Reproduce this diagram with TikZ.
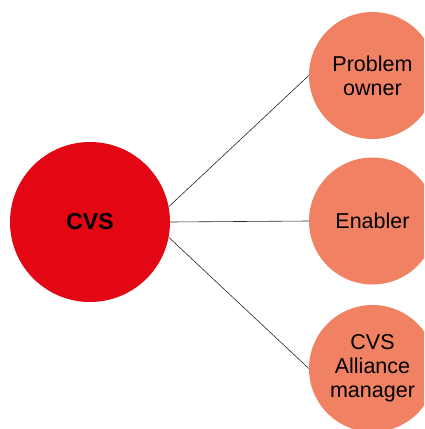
\documentclass[tikz,border=0pt]{standalone}
\usepackage{fontspec}
\setmainfont{Liberation Sans}
\definecolor{cvsred}{HTML}{E30613}
\definecolor{salmon}{HTML}{F08263}
\begin{document}
\begin{tikzpicture}[x=1pt,y=-1pt,
  bigc/.style={circle,fill=cvsred,minimum size=160pt,inner sep=0pt,font=\fontsize{23}{26}\selectfont\bfseries},
  smallc/.style={circle,fill=salmon,minimum size=127pt,inner sep=0pt,align=center,font=\fontsize{21.5}{24}\selectfont},
  link/.style={draw=black!85,line width=0.6pt}]
\useasboundingbox (0,0) rectangle (424,429);
\clip (0,0) rectangle (424,429);
\node[bigc] (cvs) at (90,222) {CVS};
\node[smallc] (po) at (372.5,75.5) {Problem\\owner};
\node[smallc] (en) at (372.5,221) {Enabler};
\node[smallc] (am) at (372.5,368.5) {CVS\\Alliance\\manager};
\draw[link] (cvs.11) -- (po.west);
\draw[link] (cvs.east) -- (en.west);
\draw[link] (cvs.-11) -- (am.west);
\end{tikzpicture}
\end{document}
